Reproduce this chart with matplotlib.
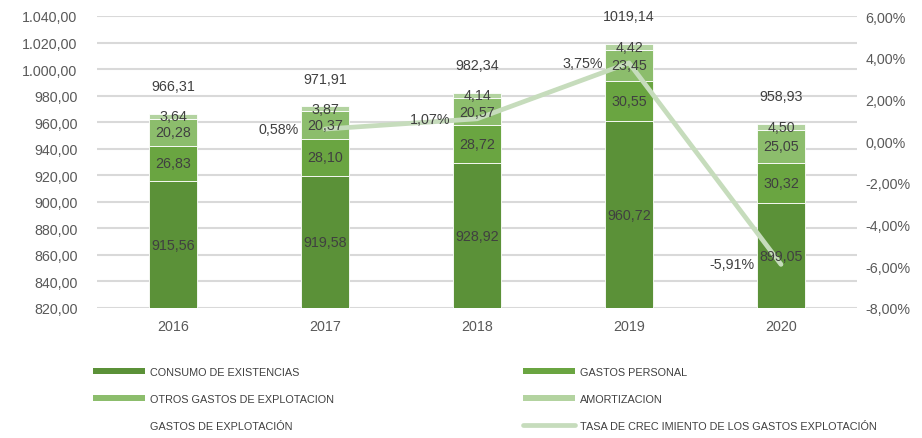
import numpy as np
import matplotlib
matplotlib.use("Agg")
import matplotlib.pyplot as plt
from matplotlib.patches import Patch
from matplotlib.lines import Line2D
from matplotlib.ticker import FuncFormatter, MultipleLocator

plt.rcParams['font.family'] = ['Liberation Sans', 'DejaVu Sans']

years = ["2016", "2017", "2018", "2019", "2020"]
consumo = [915.56, 919.58, 928.92, 960.72, 899.05]
personal = [26.83, 28.10, 28.72, 30.55, 30.32]
otros = [20.28, 20.37, 20.57, 23.45, 25.05]
amortizacion = [3.64, 3.87, 4.14, 4.42, 4.50]
totales = [966.31, 971.91, 982.34, 1019.14, 958.93]
tasa = [np.nan, 0.0058, 0.0107, 0.0375, -0.0591]

series_names = ["CONSUMO DE EXISTENCIAS", "GASTOS PERSONAL",
                "OTROS GASTOS DE EXPLOTACION", "AMORTIZACION"]
colors = ["#5b9138", "#6aa541", "#8cbd6c", "#b3d3a0"]
line_color = "#c6dcbc"
label_color = "#404040"
tick_color = "#595959"
grid_color = "#d9d9d9"

fig = plt.figure(figsize=(9.22, 4.39), dpi=100)
ax = fig.add_axes([97 / 922, 1 - 309 / 439, 760 / 922, 292 / 439])
ax2 = ax.twinx()

x = np.arange(len(years))
width = 0.31
ymin, ymax = 820, 1040

# bars on the left axis, their labels on top of everything (ax2, data coords of ax)
bottom = np.zeros(len(years))
for vals, col in zip([consumo, personal, otros, amortizacion], colors):
    vals = np.array(vals)
    ax.bar(x, vals, width, bottom=bottom, color=col, edgecolor="white",
           linewidth=0.6, zorder=2)
    for xi, b, v in zip(x, bottom, vals):
        lo = max(b, ymin)
        hi = b + v
        ax2.text(xi, (lo + hi) / 2, f"{v:.2f}".replace(".", ","), ha="center",
                 va="center", fontsize=10.3, color=label_color, zorder=5,
                 transform=ax.transData)
    bottom = bottom + vals

for xi, t in zip(x, totales):
    ax.annotate(f"{t:.2f}".replace(".", ","), xy=(xi, t), xytext=(0, 20),
                textcoords="offset points", ha="center", va="center",
                fontsize=10.3, color=label_color, annotation_clip=False)

ax.set_xlim(-0.5, len(years) - 0.5)
ax.set_ylim(ymin, ymax)
ax.yaxis.set_major_locator(MultipleLocator(20))
ax.yaxis.set_major_formatter(FuncFormatter(
    lambda v, p: f"{v:,.2f}".replace(",", "X").replace(".", ",").replace("X", ".")))
ax.set_xticks(x)
ax.set_xticklabels(years)
ax.grid(axis="y", color=grid_color, linewidth=1.5, zorder=0)
ax.set_axisbelow(True)
for s in ax.spines.values():
    s.set_visible(False)
for s in ax2.spines.values():
    s.set_visible(False)
ax.tick_params(axis="both", length=0, labelsize=10.3, colors=tick_color)
ax.tick_params(axis="y", pad=14)
ax.tick_params(axis="x", pad=8)

# growth rate line on the right axis
ax2.plot(x, tasa, color=line_color, linewidth=3.4, solid_capstyle="round", zorder=3)
for xi, t in zip(x, tasa):
    if np.isnan(t):
        continue
    ax2.annotate(f"{t * 100:.2f}%".replace(".", ","), xy=(xi, t), xytext=(-19, 0),
                 textcoords="offset points", ha="right", va="center",
                 fontsize=10.3, color=label_color, zorder=5)
ax2.set_ylim(-0.08, 0.06)
ax2.yaxis.set_major_locator(MultipleLocator(0.02))
ax2.yaxis.set_major_formatter(FuncFormatter(
    lambda v, p: f"{v * 100:.2f}%".replace(".", ",")))
ax2.tick_params(axis="y", length=0, labelsize=10.3, colors=tick_color, pad=6)

h_left = [Patch(facecolor=colors[0]), Patch(facecolor=colors[2]),
          Patch(facecolor="none", edgecolor="none")]
l_left = [series_names[0], series_names[2], "GASTOS DE EXPLOTACIÓN"]
h_right = [Patch(facecolor=colors[1]), Patch(facecolor=colors[3]),
           Line2D([0], [0], color=line_color, linewidth=3.4, solid_capstyle="round")]
l_right = [series_names[1], series_names[3],
           "TASA DE CREC IMIENTO DE LOS GASTOS EXPLOTACIÓN"]

common = dict(loc="upper left", frameon=False, fontsize=7.8, borderpad=0,
              borderaxespad=0, handlelength=4.8, handleheight=0.5,
              handletextpad=0.45, labelspacing=1.55, labelcolor=label_color)
fig.legend(h_left, l_left, bbox_to_anchor=(93 / 922, 1 - 368 / 439), **common)
fig.legend(h_right, l_right, bbox_to_anchor=(523 / 922, 1 - 368 / 439), **common)

fig.savefig("out.png", dpi=100)
